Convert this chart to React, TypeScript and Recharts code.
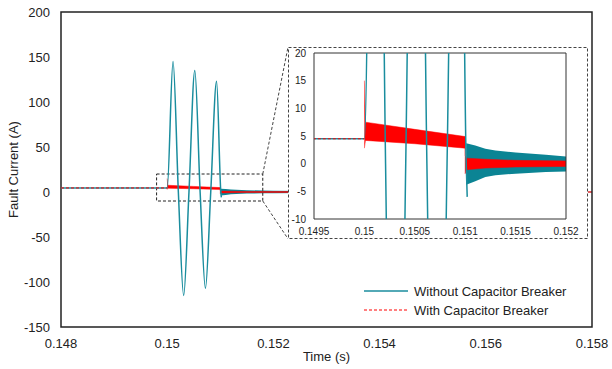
import React from "react";
import {
  ComposedChart,
  Line,
  Area,
  XAxis,
  YAxis,
  ReferenceArea,
  ReferenceLine,
  Legend,
} from "recharts";

// main axes
const mainXTicks = [0.148, 0.15, 0.152, 0.154, 0.156, 0.158];
const mainYTicks = [-150, -100, -50, 0, 50, 100, 150, 200];
// inset axes
const insetXTicks = [0.1495, 0.15, 0.1505, 0.151, 0.1515, 0.152];
const insetYTicks = [-10, -5, 0, 5, 10, 15, 20];

// without capacitor breaker: pre-fault level + the three big lobes
const waveTime = [0.148, 0.15, 0.15011, 0.15021, 0.15031, 0.15041, 0.15052, 0.15062, 0.15072, 0.15082, 0.15093, 0.15101, 0.15102];
const waveValue = [4.5, 4.5, 145, 0, -115, 0, 135, 0, -107, 0, 123, 0, -6];

// without capacitor breaker: high frequency ringing after 0.151 (envelope)
const tealBandTime = [0.15101, 0.1511, 0.1512, 0.1513, 0.1515, 0.1518, 0.152, 0.154, 0.158];
const tealBandLow = [-3.8, -3.2, -2.4, -2.1, -1.8, -1.5, -1.4, -0.6, -0.3];
const tealBandHigh = [3.7, 3.3, 2.7, 2.4, 2.0, 1.6, 1.3, 0.6, 0.3];

// with capacitor breaker: pre-fault level
const redLineTime = [0.148, 0.15];
const redLineValue = [4.5, 4.5];

// with capacitor breaker: ringing band (envelope)
const redBandTime = [0.15, 0.15001, 0.1505, 0.151, 0.151, 0.15101, 0.1512, 0.1515, 0.152, 0.154, 0.158];
const redBandLow = [2.8, 4.2, 3.6, 2.8, -1.8, -1.1, -0.8, -0.6, -0.5, -0.3, -0.2];
const redBandHigh = [15, 7.5, 6.2, 4.9, 1.5, 1.0, 0.8, 0.6, 0.5, 0.3, 0.2];

const seriesNames = ["Without Capacitor Breaker", "With Capacitor Breaker"];

const TEAL = "#1a8d9e";
const TEAL_BAND = "#0b8494";
const RED = "#ff0000";
const FONT = "'Liberation Sans', Arial, sans-serif";

const wave = waveTime.map((t, i) => ({ t, v: waveValue[i] }));
const tealBand = tealBandTime.map((t, i) => ({ t, r: [tealBandLow[i], tealBandHigh[i]] }));
const redLine = redLineTime.map((t, i) => ({ t, v: redLineValue[i] }));
const redBand = redBandTime.map((t, i) => ({ t, r: [redBandLow[i], redBandHigh[i]] }));

function series() {
  return [
    <Line key="wave" data={wave} dataKey="v" type="monotone" stroke={TEAL} strokeWidth={1.5} dot={false} isAnimationActive={false} />,
    <Area key="tband" data={tealBand} dataKey="r" type="linear" stroke="none" fill={TEAL_BAND} fillOpacity={1} isAnimationActive={false} />,
    <Line key="red" data={redLine} dataKey="v" type="linear" stroke={RED} strokeWidth={1} strokeDasharray="3 2" dot={false} isAnimationActive={false} />,
    <Area key="rband" data={redBand} dataKey="r" type="linear" stroke={RED} strokeWidth={0.5} fill={RED} fillOpacity={1} isAnimationActive={false} />,
  ];
}

function LegendBox() {
  return (
    <svg width={240} height={40} style={{ fontFamily: FONT }}>
      <line x1={4} y1={9} x2={48} y2={9} stroke={TEAL} strokeWidth={1.5} />
      <text x={54} y={13.5} fontSize={13} fill="#222">{seriesNames[0]}</text>
      <line x1={4} y1={28} x2={48} y2={28} stroke={RED} strokeWidth={1} strokeDasharray="3 2" />
      <text x={54} y={32.5} fontSize={13} fill="#222">{seriesNames[1]}</text>
    </svg>
  );
}

export default function App() {
  return (
    <div style={{ position: "absolute", left: 0, top: 0, width: 612, height: 369, background: "#fff", fontFamily: FONT }}>
      <ComposedChart width={612} height={369} margin={{ top: 12, right: 20, bottom: 0, left: 0 }}>
        <XAxis
          dataKey="t"
          type="number"
          domain={[0.148, 0.158]}
          ticks={mainXTicks}
          allowDataOverflow
          axisLine={false}
          tickLine={false}
          tickSize={0}
          tickMargin={12}
          height={42}
          tick={{ fill: "#222", fontSize: 13, fontFamily: FONT }}
          label={{ value: "Time  (s)", position: "insideBottom", offset: 8, fill: "#222", fontSize: 13, fontFamily: FONT }}
        />
        <YAxis
          type="number"
          domain={[-150, 200]}
          ticks={mainYTicks}
          allowDataOverflow
          axisLine={false}
          tickLine={false}
          tickSize={0}
          tickMargin={11}
          width={61}
          tick={{ fill: "#222", fontSize: 13, fontFamily: FONT }}
          label={{ value: "Fault Current (A)", angle: -90, position: "insideLeft", offset: 13, fill: "#222", fontSize: 13, fontFamily: FONT, style: { textAnchor: "middle" } }}
        />
        {series()}
        <ReferenceArea x1={0.1498} x2={0.1518} y1={-10} y2={20} fill="none" stroke="#222" strokeDasharray="3 2" strokeWidth={1} ifOverflow="visible" />
        <ReferenceLine segment={[{ x: 0.1518, y: 20 }, { x: 0.152275, y: 161 }]} stroke="#444" strokeDasharray="3 2" ifOverflow="visible" />
        <ReferenceLine segment={[{ x: 0.1518, y: -10 }, { x: 0.152275, y: -52 }]} stroke="#444" strokeDasharray="3 2" ifOverflow="visible" />
        <ReferenceArea x1={0.148} x2={0.158} y1={-150} y2={200} fill="none" stroke="#222" strokeWidth={1.5} ifOverflow="visible" />
        <Legend
          layout="vertical"
          align="center"
          verticalAlign="middle"
          wrapperStyle={{ left: 360, top: 282, width: 240, height: 40 }}
          content={() => <LegendBox />}
        />
      </ComposedChart>

      <div style={{ position: "absolute", left: 288, top: 47, width: 300, height: 192, background: "#fff" }}>
        <ComposedChart width={300} height={192} margin={{ top: 6, right: 22, bottom: 0, left: 0 }}>
          <XAxis
            dataKey="t"
            type="number"
            domain={[0.1495, 0.152]}
            ticks={insetXTicks}
            allowDataOverflow
            axisLine={false}
            tickLine={false}
            tickSize={0}
            tickMargin={9}
            height={20}
            interval={0}
            tick={{ fill: "#222", fontSize: 10, fontFamily: FONT }}
          />
          <YAxis
            type="number"
            domain={[-10, 20]}
            ticks={insetYTicks}
            allowDataOverflow
            axisLine={false}
            tickLine={false}
            tickSize={0}
            tickMargin={8}
            width={26}
            interval={0}
            tick={{ fill: "#222", fontSize: 10, fontFamily: FONT }}
          />
          {series()}
          <ReferenceArea x1={0.1495} x2={0.152} y1={-10} y2={20} fill="none" stroke="#333" strokeWidth={1} ifOverflow="visible" />
        </ComposedChart>
        <svg width={300} height={192} style={{ position: "absolute", left: 0, top: 0, pointerEvents: "none" }}>
          <rect x={0.5} y={0.5} width={299} height={191} fill="none" stroke="#444" strokeDasharray="3 2" />
        </svg>
      </div>
    </div>
  );
}
